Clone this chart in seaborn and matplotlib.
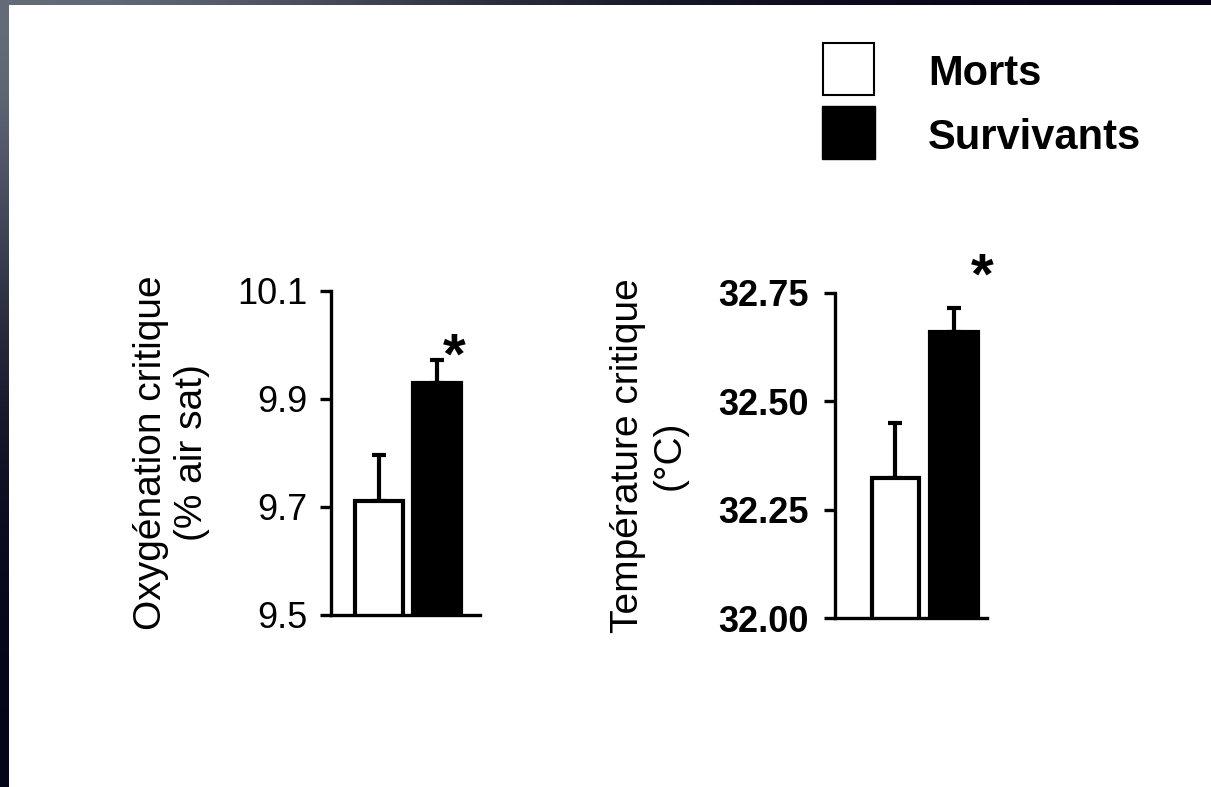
import numpy as np
import pandas as pd
import matplotlib
matplotlib.use("Agg")
import matplotlib.pyplot as plt
import seaborn as sns
from matplotlib.patches import Rectangle

# ---- data ----
groups = ["Morts", "Survivants"]
colors = ["white", "black"]
oxy_mean = [9.711, 9.930]
oxy_sem = [0.085, 0.042]
temp_mean = [32.323, 32.660]
temp_sem = [0.127, 0.055]
oxy_ticks = [9.5, 9.7, 9.9, 10.1]
oxy_ticklabels = ["9.5", "9.7", "9.9", "10.1"]
temp_ticks = [32.00, 32.25, 32.50, 32.75]
temp_ticklabels = ["32.00", "32.25", "32.50", "32.75"]
oxy_label = "Oxygénation critique\n(% air sat)"
temp_label = "Température critique\n(°C)"

sns.set_style("ticks")
plt.rcParams["font.family"] = ["Liberation Sans", "DejaVu Sans"]
plt.rcParams["text.color"] = "black"
plt.rcParams["axes.labelcolor"] = "black"

W, H = 1211, 787
fig = plt.figure(figsize=(W / 100, H / 100), dpi=100)

# slide background frame (dark gradient at left/top)
bg = fig.add_axes([0, 0, 1, 1], zorder=-10)
yy, xx = np.mgrid[0:H:4, 0:W:4]
light = np.array([100, 108, 122]) / 255
dark = np.array([6, 4, 24]) / 255
t = np.exp(-((xx / 520.0) ** 2 + (yy / 330.0) ** 2))
img = dark + (light - dark) * t[..., None]
bg.imshow(img, extent=[0, W, H, 0], aspect="auto", interpolation="bilinear")
bg.add_patch(Rectangle((9, 5), W - 9, H - 5, facecolor="white", edgecolor="none"))
bg.set_xlim(0, W)
bg.set_ylim(H, 0)
bg.axis("off")


def panel(rect, means, sems, xlim, ylim, ticks, ticklabels, label, label_x,
          bold, width, star_dx, star_y, pad):
    ax = fig.add_axes(rect)
    df = pd.DataFrame({"g": groups, "v": means})
    sns.barplot(data=df, x="g", y="v", hue="g", palette=colors, width=width,
                edgecolor="black", linewidth=3.0, legend=False, ax=ax, zorder=2)
    ax.errorbar(np.arange(len(means)), means,
                yerr=[np.zeros(len(sems)), sems], fmt="none", ecolor="black",
                elinewidth=3.0, capsize=5, capthick=3.0, zorder=1)
    ax.set_xlim(*xlim)
    ax.set_ylim(*ylim)
    ax.set_yticks(ticks)
    ax.set_yticklabels(ticklabels, fontsize=26, color="black",
                       fontweight="bold" if bold else "normal")
    ax.set_xticks([])
    ax.set_xlabel("")
    ax.set_ylabel(label, fontsize=28, linespacing=1.2, color="black")
    ax.yaxis.set_label_coords(label_x, 0.5)
    for s in ["top", "right"]:
        ax.spines[s].set_visible(False)
    for s in ["left", "bottom"]:
        ax.spines[s].set_linewidth(2.4)
        ax.spines[s].set_color("black")
    ax.tick_params(axis="y", direction="out", length=8, width=2.4,
                   pad=pad, colors="black")
    ax.patch.set_alpha(0)
    ax.text(1 + star_dx, star_y, "*", fontsize=42, fontweight="bold",
            ha="center", va="center", color="black")
    return ax


panel([331 / W, 1 - 615 / H, 149 / W, 324 / H], oxy_mean, oxy_sem,
      (-0.828, 1.741), (9.5, 10.1), oxy_ticks, oxy_ticklabels, oxy_label,
      -0.81, False, 0.83, 0.30, 9.974, 9)
panel([835 / W, 1 - 618 / H, 152 / W, 325 / H], temp_mean, temp_sem,
      (-1.034, 1.564), (32.0, 32.75), temp_ticks, temp_ticklabels, temp_label,
      -0.97, True, 0.81, 0.49, 32.783, 11)

# legend
leg = fig.add_axes([0, 0, 1, 1], zorder=5)
leg.set_xlim(0, W)
leg.set_ylim(H, 0)
leg.axis("off")
leg.add_patch(Rectangle((823, 43), 51, 52, facecolor=colors[0],
                        edgecolor="black", linewidth=1.5))
leg.add_patch(Rectangle((822, 106), 53, 53, facecolor=colors[1],
                        edgecolor="black", linewidth=1.0))
leg.text(928, 74, groups[0], fontsize=30, fontweight="bold", va="center",
         ha="left", color="black")
leg.text(928, 138, groups[1], fontsize=30, fontweight="bold", va="center",
         ha="left", color="black")

fig.savefig("out.png", dpi=100)
